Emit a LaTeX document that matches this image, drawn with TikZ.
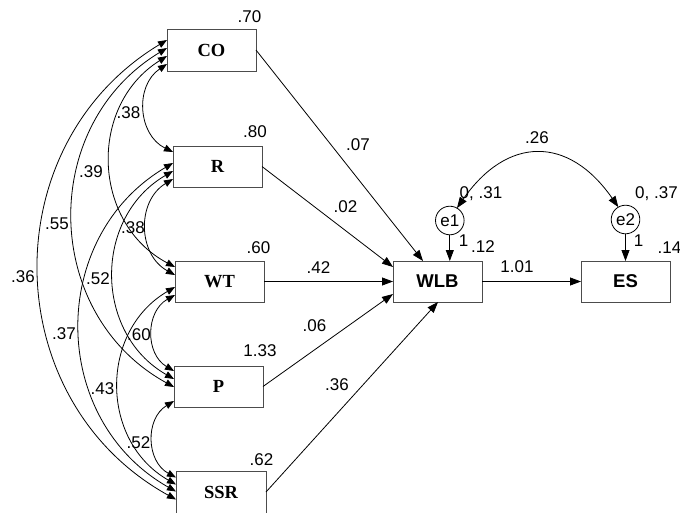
\documentclass[tikz,border=0pt]{standalone}
\usepackage{fontspec}
\setmainfont{Liberation Sans}
\newfontfamily\timesfont{Liberation Serif}
\usetikzlibrary{arrows.meta}
\begin{document}
\begin{tikzpicture}[x=1pt,y=-1pt,
  box/.style={draw=black!70, line width=1pt, minimum width=89pt, minimum height=41pt, inner sep=0pt, outer sep=0pt},
  obsl/.style={box, font=\timesfont\bfseries\fontsize{18.5}{20}\selectfont},
  obsr/.style={box, font=\bfseries\fontsize{18.5}{20}\selectfont},
  err/.style={circle, draw=black, line width=0.8pt, minimum size=28.6pt, inner sep=0pt, outer sep=0pt, font=\fontsize{17}{20}\selectfont},
  lab/.style={inner sep=0pt, text height=12.2pt, text depth=0pt, font=\fontsize{17}{20}\selectfont},
  reg/.style={line width=0.8pt, -{Triangle[length=11pt,width=8pt]}},
  cov/.style={line width=0.8pt, {Triangle[length=9pt,width=7pt]}-{Triangle[length=9pt,width=7pt]}, bend right=60, looseness=1.135},
  cove/.style={line width=0.8pt, {Triangle[length=11pt,width=8pt]}-{Triangle[length=11pt,width=8pt]}}
]
\useasboundingbox (0,0) rectangle (680,512);

% observed exogenous
\node[obsl, minimum height=42pt] (CO) at (211.5,50) {CO};
\node[obsl] (R) at (217.5,166.5) {R};
\node[obsl] (WT) at (219.5,281.5) {WT};
\node[obsl] (P) at (218.5,386.5) {P};
\node[obsl, minimum width=90pt, minimum height=44pt, text depth=0pt, text height=12pt] (SSR) at (221,493.5) {\raisebox{1.5pt}{SSR}};
% endogenous
\node[obsr] (WLB) at (437.5,281.5) {WLB};
\node[obsr] (ES) at (625.5,281.5) {ES};
\node[err] (e1) at (449.8,220.5) {e1};
\node[err] (e2) at (625.5,219.5) {e2};

% regression paths
\draw[reg] (CO.east) -- ([xshift=30pt]WLB.north west);
\draw[reg] (R.east) -- ([yshift=-6pt]WLB.north west);
\draw[reg] (WT.east) -- (WLB.west);
\draw[reg] (P.east) -- ([yshift=8pt]WLB.south west);
\draw[reg] ([yshift=1.5pt]SSR.east) -- ([xshift=45pt]WLB.south west);
\draw[reg] (WLB.east) -- (ES.west);
\draw[reg] (e1.south) -- (e1.south |- WLB.north);
\draw[reg] (e2.south) -- (e2.south |- ES.north);

% covariances
\draw[cov] ([yshift=-35pt]CO.north west) to ([yshift=-6pt]R.north west);
\draw[cov] ([yshift=-27pt]CO.north west) to ([yshift=-6pt]WT.north west);
\draw[cov] ([yshift=-19pt]CO.north west) to ([yshift=-21pt]P.north west);
\draw[cov] ([yshift=-11pt]CO.north west) to ([yshift=-28pt]SSR.north west);
\draw[cov] ([yshift=-33pt]R.north west) to ([yshift=-14pt]WT.north west);
\draw[cov] ([yshift=-25pt]R.north west) to ([yshift=-13pt]P.north west);
\draw[cov] ([yshift=-17pt]R.north west) to ([yshift=-20pt]SSR.north west);
\draw[cov] ([yshift=-34pt]WT.north west) to ([yshift=-5pt]P.north west);
\draw[cov] ([yshift=-26pt]WT.north west) to ([yshift=-13pt]SSR.north west);
\draw[cov] ([yshift=-35pt]P.north west) to ([yshift=-6pt]SSR.north west);
\draw[cove] (e1.60) .. controls +(50,-72) and +(-50,-72) .. (e2.120);

% variance / intercept labels
\node[lab] (lCO) at (249.5,16.5) {.70};
\node[lab] (lR) at (255,131) {.80};
\node[lab] (lWT) at (258.5,247) {.60};
\node[lab] (lP) at (260,350) {1.33};
\node[lab] (lSSR) at (261.5,459.5) {.62};
\node[lab] (lWLB) at (483,246.5) {.12};
\node[lab] (lES) at (669.5,247) {.14};
\node[lab] (le1) at (481,192.5) {0, .31};
\node[lab] (le2) at (656.5,192.5) {0, .37};
\node[lab] (lee) at (537,137.5) {.26};
\node[lab] (w1) at (463.5,240) {1};
\node[lab] (w2) at (638.5,240) {1};
% path coefficients
\node[lab] (bES) at (517,266.5) {1.01};
\node[lab] (bWT) at (318.5,267.5) {.42};
\node[lab] (bR) at (345.5,206) {.02};
\node[lab] (bCO) at (358,144) {.07};
\node[lab] (bP) at (314.5,325.5) {.06};
\node[lab] (bSSR) at (337,384.5) {.36};
% covariance labels
\node[lab] (cCOR) at (128.5,112.5) {.38};
\node[lab] (cCOWT) at (91,171.5) {.39};
\node[lab] (cCOP) at (57,223.5) {.55};
\node[lab] (cRWT) at (133,227) {.38};
\node[lab] (cCOSSR) at (23,276.5) {.36};
\node[lab] (cRP) at (98,278.5) {.52};
\node[lab] (cRSSR) at (64,333) {.37};
\node[lab] (cWTP) at (139,334) {.60};
\node[lab] (cWTSSR) at (102.5,388.5) {.43};
\node[lab] (cPSSR) at (138.5,442.5) {.52};
\end{tikzpicture}
\end{document}
